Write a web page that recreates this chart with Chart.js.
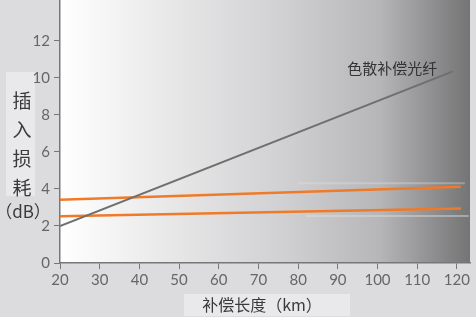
<!DOCTYPE html>
<html><head><meta charset="utf-8">
<script src="https://cdn.jsdelivr.net/npm/chart.js@4/dist/chart.umd.min.js"></script>
<style>html,body{margin:0;padding:0;background:#dcdcde;}#wrap{width:476px;height:317px;position:relative;}</style>
</head><body><div id="wrap"><canvas id="c" width="476" height="317"></canvas></div>
<script>
const xTicks = [20,30,40,50,60,70,80,90,100,110,120];
const yTicks = [0,2,4,6,8,10,12];
const dcfX = [20,119];
const dcfY = [2.0,10.35];
const upperX = [20,121];
const upperY = [3.41,4.12];
const lowerX = [20,121];
const lowerY = [2.52,2.94];
const ghostUpperX = [80,122];
const ghostUpperY = [4.3,4.3];
const ghostLowerX = [82,123];
const ghostLowerY = [2.54,2.54];
const yTitleChars = ['插','入','损','耗'];
const yTitleUnit = '（dB）';
const xTitle = '补偿长度（km）';
const curveLabel = '色散补偿光纤';
const curveLabelPos = [103.7,10.5];

const pts = (xs,ys)=>xs.map((x,i)=>({x:x,y:ys[i]}));

const bgPlugin = {
  id:'bg',
  beforeDraw(chart){
    const {ctx,chartArea:a} = chart;
    ctx.save();
    ctx.fillStyle='#dcdcde';
    ctx.fillRect(0,0,chart.width,chart.height);
    const g = ctx.createLinearGradient(a.left,0,a.right,0);
    g.addColorStop(0,'#ffffff');
    g.addColorStop(0.3,'#e5e5e6');
    g.addColorStop(0.55,'#d0d0d2');
    g.addColorStop(0.78,'#b6b6b8');
    g.addColorStop(0.92,'#8c8c8e');
    g.addColorStop(1,'#747474');
    ctx.fillStyle=g;
    ctx.fillRect(a.left,0,a.right-a.left,a.bottom);
    ctx.fillStyle='#e9e9eb';
    ctx.fillRect(6,72,29,124);
    ctx.fillRect(184,294,166,22);
    ctx.restore();
  },
  afterDraw(chart){
    const {ctx} = chart;
    ctx.save();
    ctx.fillStyle='#3a3a3a';
    ctx.textAlign='center';
    ctx.textBaseline='middle';
    ctx.font='19px "Noto Sans CJK SC"';
    yTitleChars.forEach((ch,i)=>ctx.fillText(ch,22,101+i*29));
    ctx.font='17px "Noto Sans CJK SC"';
    ctx.fillText(yTitleUnit,23,212);
    ctx.font='16px "Noto Sans CJK SC"';
    ctx.fillText(xTitle,262,305);
    const xs=chart.scales.x, ys=chart.scales.y;
    ctx.font='15px "Noto Sans CJK SC"';
    ctx.fillStyle='#333';
    ctx.fillText(curveLabel,xs.getPixelForValue(curveLabelPos[0]),ys.getPixelForValue(curveLabelPos[1]));
    ctx.restore();
  }
};

new Chart(document.getElementById('c'),{
  type:'scatter',
  data:{datasets:[
    {data:pts(ghostUpperX,ghostUpperY),showLine:true,borderColor:'rgba(225,225,225,0.35)',borderWidth:2,pointRadius:0},
    {data:pts(ghostLowerX,ghostLowerY),showLine:true,borderColor:'rgba(225,225,225,0.45)',borderWidth:2,pointRadius:0},
    {data:pts(dcfX,dcfY),showLine:true,borderColor:'#6f6f6f',borderWidth:2,pointRadius:0},
    {data:pts(upperX,upperY),showLine:true,borderColor:'#f07a28',borderWidth:2.5,pointRadius:0},
    {data:pts(lowerX,lowerY),showLine:true,borderColor:'#f07a28',borderWidth:2.5,pointRadius:0}
  ]},
  options:{
    responsive:false,animation:false,
    layout:{padding:{left:0,right:6,top:0,bottom:0}},
    plugins:{legend:{display:false},tooltip:{enabled:false}},
    scales:{
      x:{type:'linear',min:20,max:123.3,
        afterBuildTicks(s){s.ticks=xTicks.map(v=>({value:v}));},
        afterFit(s){s.height=54;s.paddingLeft=0;s.paddingRight=0;},
        grid:{drawOnChartArea:false,drawTicks:true,tickLength:6,color:'#777',lineWidth:1},
        border:{display:true,color:'#777',width:1.5},
        ticks:{color:'#666',font:{family:'Lato',size:15},padding:2,maxRotation:0,autoSkip:false}
      },
      y:{type:'linear',min:0,max:14.2,
        afterBuildTicks(s){s.ticks=yTicks.map(v=>({value:v}));},
        afterFit(s){s.width=60;s.paddingTop=0;s.paddingBottom=0;},
        grid:{drawOnChartArea:false,drawTicks:true,tickLength:6,color:'#777',lineWidth:1},
        border:{display:true,color:'#777',width:1.5},
        ticks:{color:'#666',font:{family:'Lato',size:15},padding:4}
      }
    }
  },
  plugins:[bgPlugin]
});
</script></body></html>
